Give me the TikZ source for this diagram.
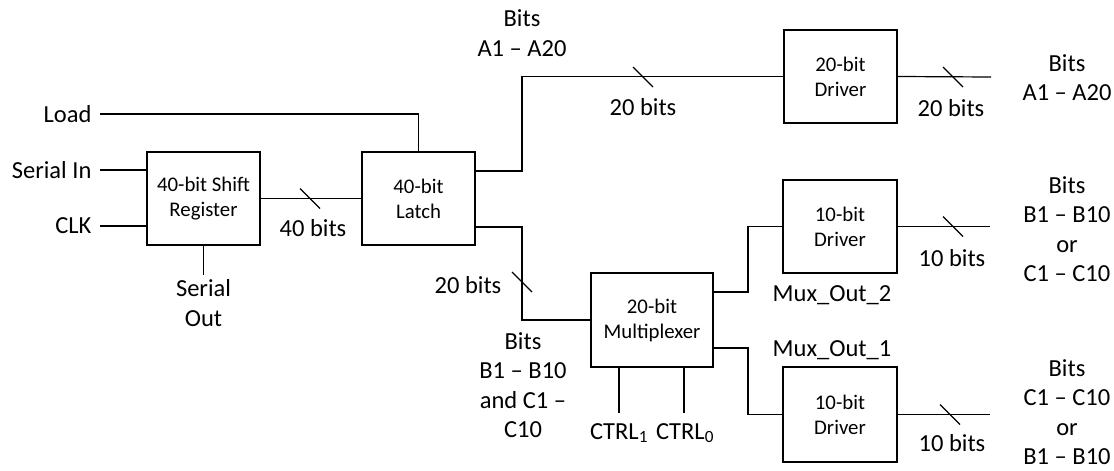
\documentclass[tikz,border=0pt]{standalone}
\usepackage{fontspec}
\setmainfont{Carlito}
\begin{document}
\begin{tikzpicture}[x=1pt,y=-1pt,line width=1.2pt,
  blk/.style={draw,line width=1.2pt,inner sep=0pt,align=center,font=\fontsize{20.8}{25}\selectfont},
  lbl/.style={inner sep=0pt,align=center,font=\fontsize{24.5}{29.5}\selectfont},
  wire/.style={line width=1.2pt}]
\useasboundingbox (0,0) rectangle (1114,471);
% blocks
\node[blk,minimum width=113pt,minimum height=93pt] (sr) at (203.5,198.5) {40-bit Shift\\Register};
\node[blk,minimum width=113pt,minimum height=93pt] (la) at (418.5,198.5) {40-bit\\Latch};
\node[blk,minimum width=122pt,minimum height=94pt] (mux) at (652,320) {20-bit\\Multiplexer};
\node[blk,minimum width=113pt,minimum height=93pt] (d20) at (840.5,76.5) {20-bit\\Driver};
\node[blk,minimum width=114pt,minimum height=93pt] (d10a) at (840,226.5) {10-bit\\Driver};
\node[blk,minimum width=114pt,minimum height=95pt] (d10b) at (840,414.5) {10-bit\\Driver};
% input labels
\node[lbl,anchor=east] (lload) at (92,114) {Load};
\node[lbl,anchor=east] (lsin) at (92,170) {Serial In};
\node[lbl,anchor=east] (lclk) at (92,226) {CLK};
\coordinate (cload) at (100,114);
\coordinate (csin) at (100,170);
\coordinate (cclk) at (100,226);
\draw[wire] (cload) -| (la.north);
\draw[wire] (csin) -- (sr.west |- csin);
\draw[wire] (cclk) -- (sr.west |- cclk);
% serial out
\coordinate (cso) at (203.5,275);
\draw[wire] (sr.south) -- (cso);
\node[lbl] (lso) at (203.5,303) {Serial\\Out};
% shift -> latch
\draw[wire] (sr.east) -- (la.west);
\coordinate (s1) at (310,198.5);
\draw[wire] ([shift={(-10,-10)}]s1) -- ([shift={(10,10)}]s1);
\node[lbl] (l40) at (313,228) {40 bits};
% latch upper -> driver20
\coordinate (lu) at (475,171);
\coordinate (ku) at (522,171);
\draw[wire] (lu) -- (ku) |- (d20.west);
\coordinate (s2) at (643,77);
\draw[wire] ([shift={(-10,-10)}]s2) -- ([shift={(10,10)}]s2);
\node[lbl] (l20a) at (643,107) {20 bits};
\node[lbl] (lbitsA) at (522,33) {Bits\\A1 – A20};
% driver20 out
\coordinate (o20) at (991,77);
\draw[wire] (d20.east) -- (o20);
\coordinate (s3) at (953,77);
\draw[wire] ([shift={(-10,-10)}]s3) -- ([shift={(10,10)}]s3);
\node[lbl] (l20b) at (951,108) {20 bits};
\node[lbl] (rA) at (1067,77.5) {Bits\\A1 – A20};
% latch lower -> mux
\coordinate (ll) at (475,227);
\coordinate (kl) at (522,227);
\draw[wire] (ll) -- (kl) |- (mux.west);
\coordinate (s4) at (522,282);
\draw[wire] ([shift={(-10,-10)}]s4) -- ([shift={(10,10)}]s4);
\node[lbl] (l20c) at (468,285) {20 bits};
\node[lbl] (lbitsBC) at (523,385) {Bits\\B1 – B10\\and C1 –\\C10};
% mux outputs
\coordinate (mo2) at (713,292);
\coordinate (mo1) at (713,348);
\draw[wire] (mo2) -- (748,292) |- (d10a.west);
\draw[wire] (mo1) -- (748,348) |- (d10b.west);
\node[lbl] (lmo2) at (832,295) {Mux\_Out\_2};
\node[lbl] (lmo1) at (832,350) {Mux\_Out\_1};
% ctrl
\coordinate (c1t) at (619,367);
\coordinate (c1b) at (619,413);
\coordinate (c0t) at (684,367);
\coordinate (c0b) at (684,413);
\draw[wire] (c1t) -- (c1b);
\draw[wire] (c0t) -- (c0b);
\node[lbl] (lc1) at (619,433) {CTRL\textsubscript{1}};
\node[lbl] (lc0) at (685,433) {CTRL\textsubscript{0}};
% driver10a out
\coordinate (oa) at (990,226.5);
\draw[wire] (d10a.east) -- (oa);
\coordinate (s5) at (953,226.5);
\draw[wire] ([shift={(-10,-10)}]s5) -- ([shift={(10,10)}]s5);
\node[lbl] (l10a) at (952,258) {10 bits};
\node[lbl] (rB) at (1067,229) {Bits\\B1 – B10\\or\\C1 – C10};
% driver10b out
\coordinate (ob) at (990,414.5);
\draw[wire] (d10b.east) -- (ob);
\coordinate (s6) at (950,414.5);
\draw[wire] ([shift={(-10,-10)}]s6) -- ([shift={(10,10)}]s6);
\node[lbl] (l10b) at (952,443) {10 bits};
\node[lbl] (rC) at (1067,412) {Bits\\C1 – C10\\or\\B1 – B10};
\end{tikzpicture}
\end{document}
